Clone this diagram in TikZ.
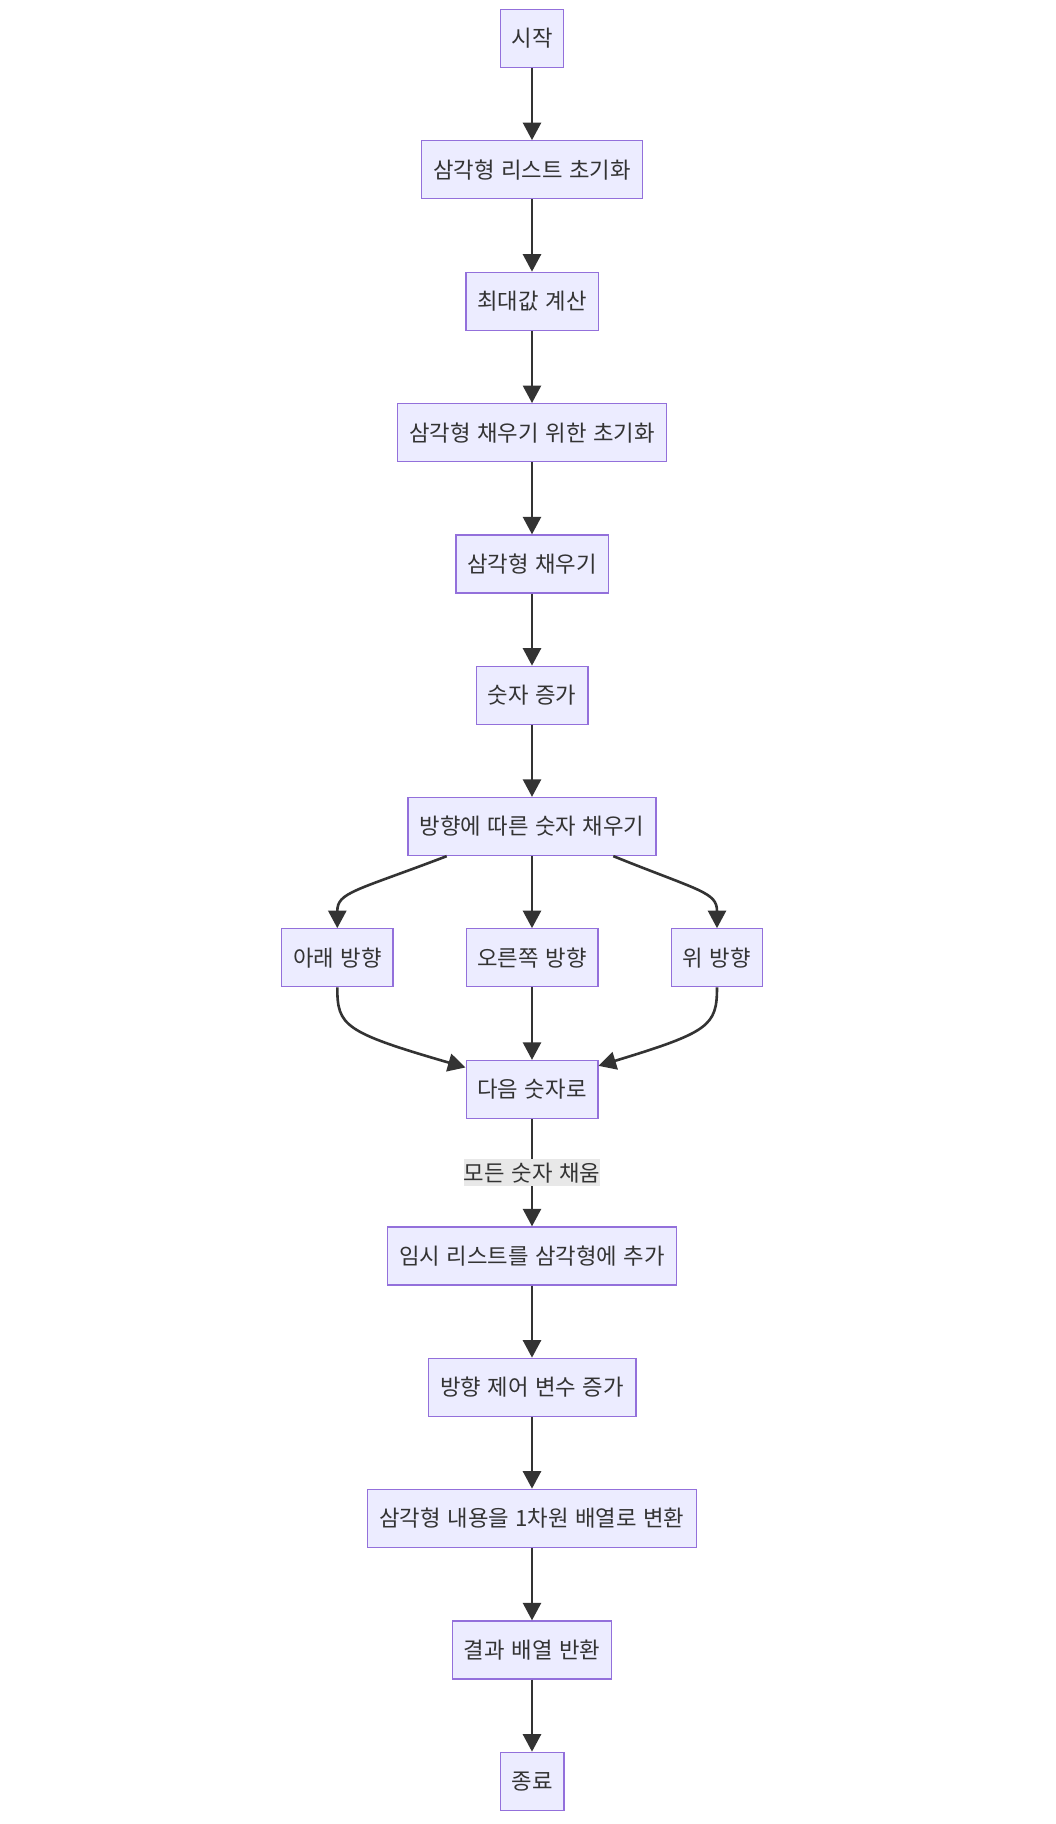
\documentclass[tikz,border=0pt]{standalone}
\usepackage{fontspec}
\newfontfamily\kr[WordSpace=1.3]{Noto Sans CJK KR}
\usetikzlibrary{arrows.meta,calc}
\definecolor{lav}{HTML}{ECECFF}
\definecolor{vio}{HTML}{9370DB}
\definecolor{ink}{HTML}{333333}
\definecolor{lblbg}{HTML}{E8E8E8}
\tikzset{
  box/.style={draw=vio, fill=lav, line width=1.3pt, minimum height=58pt, inner sep=0pt, text=ink,
    font=\kr\fontsize{22.3pt}{26pt}\selectfont},
  arr/.style={draw=ink, line width=2.6pt, -{Triangle[length=17.5pt,width=18pt]}},
  lbl/.style={fill=lblbg, inner sep=0pt, minimum width=136pt, minimum height=26.7pt, text=ink,
    font=\kr\fontsize{22.3pt}{26pt}\selectfont}
}
\begin{document}
\begin{tikzpicture}[x=1pt,y=-1pt]
\useasboundingbox[fill=white] (0,0) rectangle (1056,1824);
\node[box, minimum width=63.2pt]  (start) at (532,38.3)   {시작};
\node[box, minimum width=220.6pt] (init)  at (532,169.8)  {삼각형 리스트 초기화};
\node[box, minimum width=132.3pt] (maxv)  at (532,301.3)  {최대값 계산};
\node[box, minimum width=269pt]   (fini)  at (532,432.7)  {삼각형 채우기 위한 초기화};
\node[box, minimum width=152.3pt] (fill)  at (532,564)    {삼각형 채우기};
\node[box, minimum width=111.7pt] (inc)   at (532,695.3)  {숫자 증가};
\node[box, minimum width=248pt]   (dir)   at (532,826.5)  {방향에 따른 숫자 채우기};
\node[box, minimum width=111.3pt] (down)  at (337.3,957.8) {아래 방향};
\node[box, minimum width=131.7pt] (right) at (532,957.8)  {오른쪽 방향};
\node[box, minimum width=90.6pt]  (up)    at (717,957.8)  {위 방향};
\node[box, minimum width=131.7pt] (next)  at (532,1089.5) {다음 숫자로};
\node[box, minimum width=289pt]   (tmp)   at (532,1256)   {임시 리스트를 삼각형에 추가};
\node[box, minimum width=207.7pt] (dinc)  at (532,1387.3) {방향 제어 변수 증가};
\node[box, minimum width=329pt]   (conv)  at (532,1518.3) {삼각형 내용을 1차원 배열로 변환};
\node[box, minimum width=159.6pt] (ret)   at (532,1650)   {결과 배열 반환};
\node[box, minimum width=63.7pt]  (stop)  at (532,1781.3) {종료};

\draw[arr] (start.south) -- (init.north);
\draw[arr] (init.south) -- (maxv.north);
\draw[arr] (maxv.south) -- (fini.north);
\draw[arr] (fini.south) -- (fill.north);
\draw[arr] (fill.south) -- (inc.north);
\draw[arr] (inc.south) -- (dir.north);
\draw[arr] ($(dir.south)+(-85.3,0)$) .. controls +(-91.7,35) and +(0,-36) .. (down.north);
\draw[arr] (dir.south) -- (right.north);
\draw[arr] ($(dir.south)+(81.3,0)$) .. controls +(87,35) and +(0,-36) .. (up.north);
\draw[arr] (down.south) .. controls +(0,38.3) and +(-121.7,-35.3) .. ($(next.north west)+(0,7.6)$);
\draw[arr] (right.south) -- (next.north);
\draw[arr] (up.south) .. controls +(0,38.3) and +(110.7,-33.7) .. ($(next.north east)+(0,6)$);
\draw[arr] (next.south) -- node[lbl] {모든 숫자 채움} (tmp.north);
\draw[arr] (tmp.south) -- (dinc.north);
\draw[arr] (dinc.south) -- (conv.north);
\draw[arr] (conv.south) -- (ret.north);
\draw[arr] (ret.south) -- (stop.north);
\end{tikzpicture}
\end{document}
